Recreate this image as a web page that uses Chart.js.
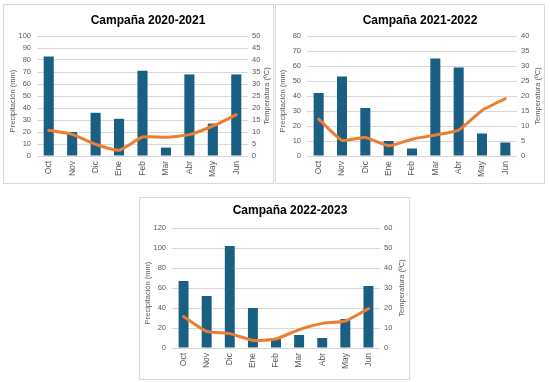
<!DOCTYPE html>
<html>
<head>
<meta charset="utf-8">
<script src="https://cdn.jsdelivr.net/npm/chart.js@4/dist/chart.umd.min.js"></script>
<style>
    body { margin: 0; background: #ffffff; }
    .box { position: absolute; border: 1px solid #d9d9d9; background: #ffffff; }
    .box canvas { display: block; }
</style>
</head>
<body>
<div class="box" style="left:3px; top:4px; width:269px; height:178px;"><canvas id="c2021"></canvas></div>
<div class="box" style="left:275px; top:4px; width:268px; height:178px;"><canvas id="c2122"></canvas></div>
<div class="box" style="left:139px; top:197px; width:269px; height:181px;"><canvas id="c2223"></canvas></div>
<script>
const months = ['Oct', 'Nov', 'Dic', 'Ene', 'Feb', 'Mar', 'Abr', 'May', 'Jun'];

// Campaña 2020-2021
const rain2021 = [83, 20, 36, 31, 71, 7, 68, 27, 68];
const temp2021 = [10.7, 9.0, 4.9, 2.4, 7.9, 7.8, 8.9, 12.5, 17.2];

// Campaña 2021-2022
const rain2122 = [42, 53, 32, 10, 5, 65, 59, 15, 9];
const temp2122 = [12.3, 5.2, 6.2, 3.4, 5.6, 7.0, 8.6, 15.2, 19.1];

// Campaña 2022-2023
const rain2223 = [67, 52, 102, 40, 10, 13, 10, 29, 62];
const temp2223 = [15.7, 8.3, 7.2, 3.8, 4.5, 9.2, 12.3, 13.5, 19.7];

const grey = '#595959';
const barColor = '#1a5e82';
const lineColor = '#ed7d31';
const fontFamily = '"Liberation Sans", Arial, sans-serif';

// draws the heading and both axis titles (both read bottom to top, as in the original)
const labelsPlugin = {
    id: 'labels',
    afterDraw(chart, args, opts) {
        const ctx = chart.ctx;
        const area = chart.chartArea;
        const midY = (area.top + area.bottom) / 2;
        ctx.save();
        ctx.fillStyle = '#000000';
        ctx.font = 'bold 12px ' + fontFamily;
        ctx.textAlign = 'center';
        ctx.textBaseline = 'middle';
        ctx.fillText(opts.title, opts.titleX, opts.titleY);

        ctx.fillStyle = grey;
        ctx.font = '7.5px ' + fontFamily;
        [[opts.leftText, opts.leftX, opts.leftDy], [opts.rightText, opts.rightX, opts.rightDy]].forEach(function(t) {
            ctx.save();
            ctx.translate(t[1], midY + t[2]);
            ctx.rotate(-Math.PI / 2);
            ctx.fillText(t[0], 0, 0);
            ctx.restore();
        });
        ctx.restore();
    }
};

function createClimateChart(elementId, rain, temp, setup) {
    const ctx = document.getElementById(elementId).getContext('2d');
    return new Chart(ctx, {
        type: 'bar',
        data: {
            labels: months,
            datasets: [
                {
                    type: 'line',
                    label: 'Temperatura',
                    data: temp,
                    yAxisID: 'y1',
                    borderColor: lineColor,
                    borderWidth: 3,
                    pointRadius: 0,
                    tension: 0.15,
                    borderCapStyle: 'round',
                    borderJoinStyle: 'round',
                    order: 0
                },
                {
                    label: 'Precipitación',
                    data: rain,
                    yAxisID: 'y',
                    backgroundColor: barColor,
                    categoryPercentage: 1,
                    barPercentage: 0.43,
                    order: 1
                }
            ]
        },
        options: {
            responsive: true,
            maintainAspectRatio: false,
            animation: false,
            layout: { padding: { top: setup.top, left: 0, right: 0, bottom: 0 } },
            plugins: {
                legend: { display: false },
                tooltip: { enabled: false },
                labels: {
                    title: setup.title,
                    titleX: setup.titleX,
                    titleY: setup.titleY,
                    leftText: 'Precipitación (mm)',
                    leftX: setup.leftX,
                    leftDy: 5,
                    rightText: 'Temperatura (ºC)',
                    rightX: setup.rightX,
                    rightDy: 0
                }
            },
            scales: {
                x: {
                    grid: { display: false, drawTicks: false },
                    border: { display: false },
                    ticks: {
                        color: grey,
                        font: { family: fontFamily, size: 8.5 },
                        minRotation: 90,
                        maxRotation: 90,
                        padding: 5,
                        autoSkip: false
                    },
                    afterFit: function(scale) { scale.height = setup.bottom; }
                },
                y: {
                    position: 'left',
                    min: 0,
                    max: setup.rainMax,
                    grid: { color: '#d9d9d9', lineWidth: 1, drawTicks: false },
                    border: { display: false },
                    ticks: {
                        stepSize: setup.rainStep,
                        color: grey,
                        font: { family: fontFamily, size: 7.5 },
                        padding: 6
                    },
                    afterFit: function(scale) { scale.width = setup.leftW; }
                },
                y1: {
                    position: 'right',
                    min: 0,
                    max: setup.tempMax,
                    grid: { display: false, drawTicks: false },
                    border: { display: false },
                    ticks: {
                        stepSize: setup.tempStep,
                        color: grey,
                        font: { family: fontFamily, size: 7.5 },
                        padding: 4
                    },
                    afterFit: function(scale) { scale.width = setup.rightW; }
                }
            }
        },
        plugins: [labelsPlugin]
    });
}

createClimateChart('c2021', rain2021, temp2021, {
    title: 'Campaña 2020-2021', titleX: 144, titleY: 16,
    top: 31, bottom: 27, leftW: 33, rightW: 25, leftX: 9, rightX: 263,
    rainMax: 100, rainStep: 10, tempMax: 50, tempStep: 5
});

createClimateChart('c2122', rain2122, temp2122, {
    title: 'Campaña 2021-2022', titleX: 144, titleY: 16,
    top: 31, bottom: 27, leftW: 31, rightW: 27, leftX: 7, rightX: 262,
    rainMax: 80, rainStep: 10, tempMax: 40, tempStep: 5
});

createClimateChart('c2223', rain2223, temp2223, {
    title: 'Campaña 2022-2023', titleX: 150, titleY: 13,
    top: 30, bottom: 31, leftW: 32, rightW: 29, leftX: 8, rightX: 262,
    rainMax: 120, rainStep: 20, tempMax: 60, tempStep: 10
});
</script>
</body>
</html>
